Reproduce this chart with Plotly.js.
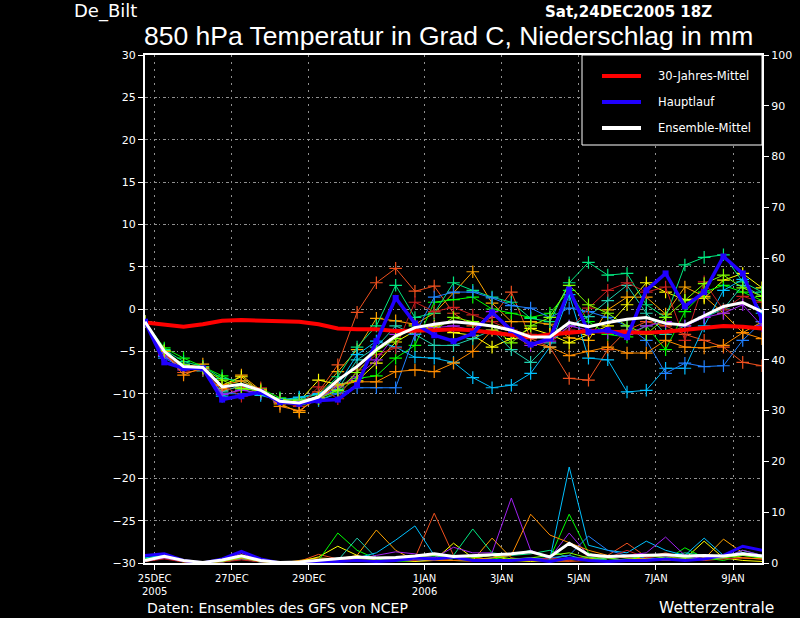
<!DOCTYPE html>
<html>
<head>
<meta charset="utf-8">
<script src="https://cdn.plot.ly/plotly-3.0.1.min.js"></script>
<style>html,body{margin:0;padding:0;background:#000;}#chart{width:800px;height:618px;}</style>
</head>
<body>
<div id="chart"></div>
<script>
// ---- time axis: 12-hourly steps from 24DEC2005 18Z ----
const nSteps = 33;
const startUTC = Date.UTC(2005, 11, 24, 18);
const times = [];
for (let i = 0; i < nSteps; i++) {
  times.push(new Date(startUTC + i * 12 * 3600 * 1000).toISOString().slice(0, 19).replace('T', ' '));
}
const tickDates = ['2005-12-25', '2005-12-27', '2005-12-29', '2006-01-01', '2006-01-03', '2006-01-05', '2006-01-07', '2006-01-09'];
const tickLabels = ['25DEC<br>2005', '27DEC', '29DEC', '1JAN<br>2006', '3JAN', '5JAN', '7JAN', '9JAN'];

// ---- 850 hPa temperature (deg C) ----
const climMean = [-1.6,-1.8,-2.1,-1.8,-1.4,-1.3,-1.4,-1.4,-1.5,-1.8,-2.3,-2.4,-2.4,-2.6,-2.6,-2.5,-2.4,-2.5,-2.8,-3.1,-3.3,-3.0,-2.8,-2.6,-2.7,-2.8,-2.8,-2.7,-2.5,-2.2,-2.0,-2.1,-2.3];
const mainRun = [-1.5,-6.3,-7.0,-7.0,-10.7,-10.3,-9.8,-11.0,-11.2,-10.8,-10.7,-9.0,-3.8,1.3,-1.7,-3.1,-3.8,-2.9,-0.4,-2.5,-4.2,-3.5,2.3,-2.7,-2.5,-3.3,2.2,4.2,0.3,2.0,6.2,4.2,-1.3];
const ensMean = [-1.5,-5.0,-6.8,-6.9,-9.2,-8.9,-9.6,-10.9,-11.1,-10.4,-8.4,-6.8,-4.8,-3.2,-2.2,-1.8,-1.5,-1.7,-2.0,-2.5,-3.3,-3.3,-1.6,-2.1,-1.6,-1.2,-1.0,-1.7,-1.9,-0.8,0.3,0.75,-0.3];

const memberColors = ['#f0501e','#ffa500','#ffff00','#00ff00','#00e880','#20d0b0','#00c0ff','#2080ff','#c81e1e','#a020f0','#ff8c00','#80ff00'];
const tempM1  = [-1.5,-5.3,-7.5,-7.2,-9.6,-9.2,-9.8,-10.9,-11.0,-9.8,-6.6,-0.4,3.1,4.8,2.1,2.7,-0.5,-2.0,-1.0,2.0,-3.5,-4.5,-8.2,-8.4,-4.8,-2.5,-1.5,-2.0,-3.0,-3.7,-4.5,-6.3,-6.7];
const tempM2  = [-1.5,-5.0,-6.8,-6.5,-9.4,-7.8,-9.6,-11.2,-12.2,-10.0,-7.4,-4.8,-1.1,-1.4,-1.8,-0.5,1.9,4.4,0.7,-1.5,-1.5,-1.8,-3.4,-3.7,-0.1,1.4,1.4,-0.6,2.6,1.5,-0.5,-2.8,-1.5];
const tempM3  = [-1.5,-5.5,-6.9,-7.0,-9.0,-8.0,-9.8,-11.0,-10.9,-8.4,-8.9,-8.5,-6.4,-3.9,-2.6,-2.0,-2.8,-3.1,-4.5,-3.5,-2.3,-3.0,-4.0,-3.0,-2.0,0.5,3.1,2.0,1.1,1.3,3.4,4.2,2.5];
const tempM4  = [-1.5,-4.6,-5.8,-6.8,-7.9,-9.0,-9.4,-10.5,-11.3,-10.8,-9.8,-8.2,-7.9,-5.8,-4.3,0.8,1.1,1.4,0.0,-0.5,-1.0,-0.5,2.2,-1.5,-3.0,-3.3,-2.0,-4.8,-0.3,2.0,2.8,2.0,1.0];
const tempM5  = [-1.5,-4.8,-6.2,-6.8,-8.2,-8.5,-9.5,-10.9,-10.5,-10.1,-8.0,-4.5,-2.0,2.8,-1.0,-0.5,3.1,2.2,1.4,0.8,-1.1,-1.5,3.1,5.5,4.0,4.2,0.5,-1.0,5.2,6.1,6.4,3.2,2.0];
const tempM6  = [-1.5,-5.2,-6.5,-7.3,-9.8,-9.0,-10.0,-10.6,-10.7,-10.5,-9.5,-6.0,-4.5,-2.0,-3.0,-4.3,-4.3,-3.5,-2.5,-4.8,-6.3,-4.0,-2.0,-0.9,1.0,2.8,-0.5,-3.0,-2.0,-1.0,0.0,2.8,1.5];
const tempM7  = [-1.5,-5.6,-7.0,-7.0,-10.3,-9.4,-10.2,-10.8,-10.4,-10.0,-9.0,-5.4,-3.8,-4.5,-5.7,-5.8,-6.3,-8.1,-9.3,-9.0,-7.6,-4.5,1.7,-5.8,-6.0,-9.8,-9.6,-7.0,-7.0,-2.0,2.2,3.5,-0.5];
const tempM8  = [-1.5,-5.8,-7.0,-7.1,-10.0,-10.0,-10.0,-11.0,-11.0,-10.8,-10.0,-9.3,-9.3,-9.3,-3.0,1.4,2.0,2.0,1.3,0.4,0.1,-1.0,0.1,-0.3,-1.0,-2.0,-3.7,-7.6,-6.4,-6.8,-6.7,-3.7,-1.5];
const tempM9  = [-1.5,-5.4,-7.0,-7.2,-9.0,-10.3,-9.3,-11.0,-11.5,-9.2,-10.6,-7.2,-5.4,-4.6,0.8,-0.3,0.2,-0.7,-1.5,-2.5,-3.0,-3.5,-2.5,0.1,2.2,3.1,2.0,2.6,-3.7,3.2,-0.1,1.5,0.8];
const tempM10 = [-1.5,-5.5,-7.2,-7.0,-10.1,-9.6,-9.9,-11.0,-11.0,-10.6,-9.2,-8.0,-6.0,-3.0,-2.5,-2.2,-2.0,-2.5,-0.3,-3.0,-4.3,-3.8,-2.0,-2.5,-2.8,-3.0,-2.0,-1.5,-2.0,-1.0,-0.5,0.5,-2.0];
const tempM11 = [-1.5,-5.0,-7.8,-6.9,-9.0,-8.5,-9.5,-11.5,-12.0,-10.5,-9.0,-8.6,-8.6,-7.4,-7.2,-7.4,-6.4,-5.0,-2.5,-3.0,-4.0,-4.5,-5.5,-5.0,-4.5,-5.2,-5.2,-3.7,-4.5,-4.6,-4.3,-2.8,-3.5];
const tempM12 = [-1.5,-4.9,-6.6,-7.0,-8.4,-9.4,-9.7,-10.7,-10.8,-10.6,-9.6,-7.5,-5.0,-3.5,-2.0,-2.5,-1.0,-1.5,-2.0,-4.0,-2.0,-1.0,2.8,0.5,-0.5,-2.0,-3.0,-1.0,1.0,3.0,4.0,2.5,1.5];

// ---- precipitation (mm, right axis) ----
const precM1  = [0.5,1.0,0.5,0,0.2,0.8,0.3,0,0.3,1.7,0.8,1.0,0.5,0.5,1.0,9.8,1.5,0.5,0.3,0.5,1.0,0.5,0.3,0.5,1.5,3.9,1.2,2.0,1.0,0.5,0.8,1.0,0.8];
const precM2  = [0.8,1.5,0.3,0,0.3,1.0,0.2,0,0.5,1.0,0.8,1.5,6.5,2.5,0.5,0.5,1.0,0.5,4.9,1.0,0.5,0.3,0.5,1.0,0.5,0.3,1.0,0.5,1.0,0.8,4.7,2.0,1.0];
const precM3  = [0.3,1.0,0.2,0,0.5,1.2,0.3,0,0.2,1.2,3.3,1.5,0.5,0.5,0.3,0.5,3.9,1.0,1.5,0.5,0.3,0.5,0.8,0.5,0.3,0.5,1.0,0.5,0.8,4.3,1.0,0.5,0.3];
const precM4  = [0.8,1.6,0.5,0,0.3,1.0,0.3,0,0.2,0.5,5.9,2.5,0.8,0.3,0.5,1.0,0.5,0.3,1.0,0.5,0.8,1.0,9.6,2.0,0.5,0.8,1.0,0.5,3.0,1.0,0.5,1.5,1.0];
const precM5  = [0.5,1.2,0.3,0,0.2,0.8,0.2,0,0.1,0.3,1.0,0.5,0.3,0.5,0.8,1.2,1.5,6.7,2.0,1.5,1.8,2.5,1.0,1.2,0.5,0.8,1.5,1.0,2.0,1.5,1.0,2.5,1.5];
const precM6  = [0.6,1.5,0.4,0,0.3,0.9,0.2,0,0.1,0.2,0.5,4.9,1.0,0.5,1.0,1.5,0.5,0.5,1.0,1.5,2.5,0.8,1.5,0.5,1.0,0.5,1.0,0.8,1.0,1.5,1.0,2.0,1.2];
const precM7  = [1.0,1.6,0.5,0,0.3,1.2,0.3,0,0.1,0.3,0.5,1.0,2.0,4.5,7.3,1.5,1.0,0.5,0.5,0.8,1.0,0.8,18.9,3.5,2.5,2.0,4.3,2.5,1.5,4.9,1.5,2.0,1.5];
const precM8  = [0.5,1.2,0.3,0,0.2,0.8,0.2,0,0,0.1,0.3,0.5,0.3,0.5,0.5,0.8,1.0,0.5,0.3,0.5,0.8,1.0,1.5,5.3,2.5,1.5,1.0,0.8,0.5,1.0,1.5,2.0,1.0];
const precM9  = [0.3,0.8,0.2,0,0.2,0.6,0.2,0,0.1,0.5,0.8,0.5,0.3,0.8,0.5,1.0,0.5,0.3,0.5,0.8,0.5,1.0,0.5,1.5,1.0,2.5,1.0,1.5,0.5,1.0,0.8,1.0,0.8];
const precM10 = [0.4,1.0,0.3,0,0.4,2.0,0.5,0,0.1,0.2,0.5,0.8,1.5,2.2,1.8,1.0,3.1,2.0,2.0,12.8,2.5,1.0,5.9,1.5,1.0,1.5,2.0,5.1,1.5,0.8,1.0,2.5,1.5];
const precM11 = [0.5,1.3,0.3,0,0.3,0.9,0.3,0,0.2,0.6,0.5,0.8,0.5,0.5,0.8,0.5,0.5,0.8,1.0,1.5,9.6,5.5,4.0,2.5,1.5,1.0,0.8,0.5,0.5,1.0,1.5,1.0,0.8];
const precM12 = [0.6,1.4,0.4,0,0.3,1.1,0.3,0,0.1,0.3,0.8,1.0,0.5,0.5,1.2,1.5,1.0,1.0,1.5,0.8,1.0,1.5,2.0,1.0,1.0,0.5,1.5,1.0,1.0,0.8,1.0,1.5,1.0];
const precMain = [1.5,1.8,0.5,0,0.8,2.3,0.8,0,0,0.1,0.3,0.5,0.3,0.5,1.0,0.8,1.2,0.5,0.5,0.5,0.8,0.3,1.0,0.5,0.3,0.5,0.5,0.8,0.5,0.8,1.5,3.3,2.5];
const precMean = [0.5,1.3,0.5,0.1,0.6,1.4,0.5,0.1,0.2,0.5,0.8,1.2,1.0,1.1,1.4,1.8,1.3,1.5,1.6,1.8,2.2,1.2,3.9,1.6,1.3,1.4,1.5,1.6,1.4,1.5,1.4,1.8,1.4];

const tempMembers = [tempM1,tempM2,tempM3,tempM4,tempM5,tempM6,tempM7,tempM8,tempM9,tempM10,tempM11,tempM12];
const precMembers = [precM1,precM2,precM3,precM4,precM5,precM6,precM7,precM8,precM9,precM10,precM11,precM12];

const legendLabels = ['30-Jahres-Mittel', 'Hauptlauf', 'Ensemble-Mittel'];

const traces = [];
tempMembers.forEach((v, k) => {
  traces.push({x: times, y: v, type: 'scatter', mode: 'lines+markers', hoverinfo: 'skip',
    line: {color: memberColors[k], width: 1},
    marker: {symbol: 'cross-thin', size: 9, color: memberColors[k], line: {color: memberColors[k], width: 1.2}}});
});
precMembers.forEach((v, k) => {
  traces.push({x: times, y: v, yaxis: 'y2', type: 'scatter', mode: 'lines', hoverinfo: 'skip',
    line: {color: memberColors[k], width: 1}});
});
traces.push({x: times, y: climMean, type: 'scatter', mode: 'lines', line: {color: '#ff0000', width: 4}});
traces.push({x: times, y: mainRun, type: 'scatter', mode: 'lines+markers', line: {color: '#2000ff', width: 3.5},
  marker: {symbol: 'square', size: 6, color: '#2000ff'}});
traces.push({x: times, y: precMain, yaxis: 'y2', type: 'scatter', mode: 'lines', line: {color: '#2000ff', width: 3}});
traces.push({x: times, y: ensMean, type: 'scatter', mode: 'lines', line: {color: '#ffffff', width: 3}});
traces.push({x: times, y: precMean, yaxis: 'y2', type: 'scatter', mode: 'lines', line: {color: '#ffffff', width: 3}});

const W = 617, H = 508, L = 145, T = 55;
const px = x => (x - L) / W;
const py = y => (T + H - y) / H;

const tickFont = {family: 'DejaVu Sans, sans-serif', size: 11, color: '#ffffff'};
const legendColors = ['#ff0000', '#2000ff', '#ffffff'];
const legendY = [76, 102, 128];

const shapes = [
  {type: 'rect', xref: 'paper', yref: 'paper', x0: px(582), x1: 1, y0: py(145), y1: 1,
   fillcolor: '#000000', line: {color: '#ffffff', width: 1}, layer: 'above'}
];
const annotations = [];
legendLabels.forEach((lab, k) => {
  shapes.push({type: 'line', xref: 'paper', yref: 'paper', x0: px(602), x1: px(641), y0: py(legendY[k]), y1: py(legendY[k]),
    line: {color: legendColors[k], width: 4}, layer: 'above'});
  annotations.push({xref: 'paper', yref: 'paper', x: px(656), y: py(legendY[k]), xanchor: 'left', yanchor: 'middle',
    text: lab, showarrow: false, font: {family: 'DejaVu Sans, sans-serif', size: 11.5, color: '#ffffff'}});
});
annotations.push({xref: 'paper', yref: 'paper', x: px(448), y: py(36), xanchor: 'center', yanchor: 'middle',
  text: '850 hPa Temperatur in Grad C, Niederschlag in mm', showarrow: false,
  font: {family: 'Liberation Sans, Arial, sans-serif', size: 26.5, color: '#ffffff'}});
annotations.push({xref: 'paper', yref: 'paper', x: px(72), y: py(11), xanchor: 'left', yanchor: 'middle',
  text: 'De_Bilt', showarrow: false, font: {family: 'DejaVu Sans, sans-serif', size: 18, color: '#ffffff'}});
annotations.push({xref: 'paper', yref: 'paper', x: px(543), y: py(12), xanchor: 'left', yanchor: 'middle',
  text: '<b>Sat,24DEC2005 18Z</b>', showarrow: false, font: {family: 'DejaVu Sans, sans-serif', size: 15, color: '#ffffff'}});
annotations.push({xref: 'paper', yref: 'paper', x: px(145), y: py(608), xanchor: 'left', yanchor: 'middle',
  text: 'Daten: Ensembles des GFS von NCEP', showarrow: false, font: {family: 'DejaVu Sans, sans-serif', size: 14, color: '#ffffff'}});
annotations.push({xref: 'paper', yref: 'paper', x: px(776), y: py(608), xanchor: 'right', yanchor: 'middle',
  text: 'Wetterzentrale', showarrow: false, font: {family: 'DejaVu Sans, sans-serif', size: 15.5, color: '#ffffff'}});

const layout = {
  width: 800, height: 618,
  margin: {l: L, r: 800 - L - W, t: T, b: 618 - T - H},
  paper_bgcolor: '#000000', plot_bgcolor: '#000000',
  showlegend: false,
  xaxis: {type: 'date', range: [times[0], times[nSteps - 1]], tickmode: 'array', tickvals: tickDates, ticktext: tickLabels,
    showgrid: true, gridcolor: '#909090', griddash: '2px,5px', gridwidth: 1, zeroline: false,
    ticks: 'outside', ticklen: 5, tickcolor: '#ffffff', showline: true, linecolor: '#ffffff', linewidth: 2, mirror: true,
    tickfont: {family: 'DejaVu Sans, sans-serif', size: 10, color: '#ffffff'}},
  yaxis: {range: [-30, 30], tickmode: 'linear', tick0: -30, dtick: 5,
    showgrid: true, gridcolor: '#909090', griddash: '3px,2px,1px,3px', gridwidth: 1, zeroline: false,
    ticks: 'outside', ticklen: 5, tickcolor: '#ffffff', showline: true, linecolor: '#ffffff', linewidth: 2, mirror: true,
    tickfont: tickFont},
  yaxis2: {overlaying: 'y', side: 'right', range: [0, 100], tickmode: 'linear', tick0: 0, dtick: 10,
    showgrid: false, zeroline: false, ticks: 'outside', ticklen: 5, tickcolor: '#ffffff',
    showline: true, linecolor: '#ffffff', linewidth: 2, tickfont: tickFont},
  shapes: shapes,
  annotations: annotations
};

Plotly.newPlot('chart', traces, layout, {displayModeBar: false, staticPlot: true});
</script>
</body>
</html>
